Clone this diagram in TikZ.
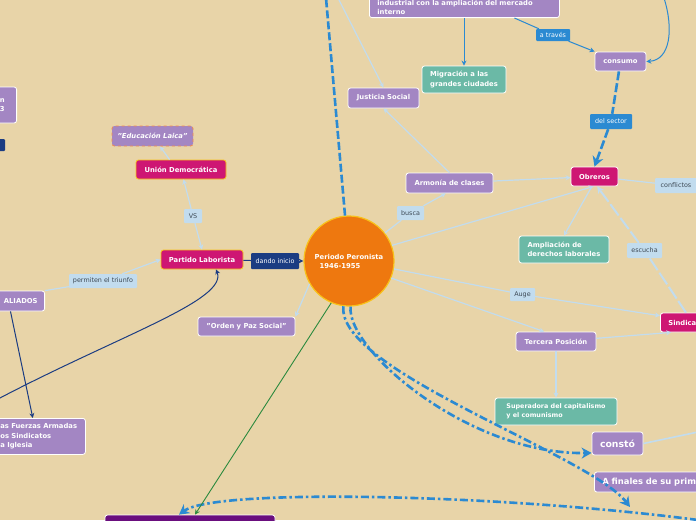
\documentclass[tikz,border=0pt]{standalone}
\usepackage{fontspec}
\setmainfont{DejaVu Sans}
\usetikzlibrary{arrows.meta}
\definecolor{fondo}{HTML}{E8D4A8}
\definecolor{morado}{HTML}{A386C3}
\definecolor{fucsia}{HTML}{CE1673}
\definecolor{verdeagua}{HTML}{6BB9A6}
\definecolor{celeste}{HTML}{C2DCEE}
\definecolor{azul}{HTML}{2B8AD2}
\definecolor{marino}{HTML}{1B3C82}
\definecolor{naranja}{HTML}{EE780F}
\definecolor{amarillo}{HTML}{F8C21A}
\definecolor{uva}{HTML}{6A0E7E}
\definecolor{verde}{HTML}{2B8A3E}
\definecolor{gristexto}{HTML}{3E4A55}
\definecolor{salmon}{HTML}{F08A50}
\begin{document}
\begin{tikzpicture}[x=1pt,y=-1pt,
	caja/.style={rectangle,rounded corners=2.5pt,draw=white,line width=0.8pt,text=white,font=\fontsize{6.8}{9.3}\selectfont\bfseries,inner sep=3pt},
	morada/.style={caja,fill=morado},
	fucsiacaja/.style={caja,fill=fucsia,draw=amarillo},
	verdecaja/.style={caja,fill=verdeagua,align=left},
	etiq/.style={rectangle,rounded corners=1pt,fill=celeste,text=gristexto,font=\fontsize{6.4}{7.5}\selectfont,inner sep=2pt},
	etiqazul/.style={etiq,fill=azul,text=white},
	etiqmarino/.style={etiq,fill=marino,text=white},
	linea/.style={celeste,line width=1.2pt,-{Stealth[length=5pt,width=5pt]}},
	lineaazul/.style={azul,line width=1pt,-{Stealth[length=5pt,width=5pt]}},
	lineamarino/.style={marino,line width=1pt,-{Stealth[length=5pt,width=5pt]}},
	gruesa/.style={azul,line width=2.6pt,dash pattern=on 8pt off 3pt on 2.5pt off 3pt,-{Stealth[length=10pt,width=11pt]}}]
	\useasboundingbox (0,0) rectangle (696,520);
	\clip (0,0) rectangle (696,520);
	\fill[fondo] (0,0) rectangle (696,520);

	\node[circle,fill=naranja,draw=amarillo,line width=1.2pt,minimum size=90pt,inner sep=0pt,text=white,font=\fontsize{6.8}{9}\selectfont\bfseries,align=left] (centro) at (349,261) {Periodo Peronista\\\hspace{5pt}1946-1955};

	\node[morada,anchor=south west,text width=174pt,align=left,inner xsep=8pt] (mercado) at (369,18) {industrial con la ampliación del mercado\\interno};
	\node[verdecaja,minimum width=84pt,minimum height=27pt] (migracion) at (464,79.5) {Migración a las\\grandes ciudades};
	\node[morada,minimum width=71pt,minimum height=20pt] (justicia) at (383.5,98) {Justicia Social};
	\node[morada,minimum width=51pt,minimum height=19pt] (consumo) at (620.5,61.5) {consumo};
	\node[etiqazul,minimum width=34pt,minimum height=12pt] (atraves) at (553,35) {a través};
	\node[etiqazul,minimum width=42pt,minimum height=15pt] (delsector) at (611,121.5) {del sector};
	\node[fucsiacaja,draw=white,minimum width=47pt,minimum height=19pt] (obreros) at (594.5,176.5) {Obreros};
	\node[etiq,minimum width=42pt,minimum height=15pt] (conflictos) at (676,185.5) {conflictos};
	\node[morada,minimum width=87pt,minimum height=20pt] (armonia) at (449.5,183) {Armonía de clases};
	\node[etiq,minimum width=27pt,minimum height=14pt] (busca) at (410.5,213) {busca};
	\node[verdecaja,minimum width=90pt,minimum height=27pt] (derechos) at (564,249.5) {Ampliación de\\derechos laborales};
	\node[etiq,minimum width=35pt,minimum height=15pt] (escucha) at (644.5,250.5) {escucha};
	\node[fucsiacaja,draw=white,anchor=west,text width=60pt,align=left,inner xsep=8pt,minimum height=19pt] (sindicatos) at (660,322.5) {Sindica};
	\node[etiq,minimum width=25pt,minimum height=13pt] (auge) at (522.5,294.5) {Auge};
	\node[morada,minimum width=80pt,minimum height=19pt] (tercera) at (556,341.5) {Tercera Posición};
	\node[verdecaja,font=\fontsize{6.4}{8.6}\selectfont\bfseries,minimum width=122pt,minimum height=27pt] (superadora) at (556,411.5) {Superadora del capitalismo\\y el comunismo};
	\node[morada,font=\fontsize{9.3}{11}\selectfont\bfseries,minimum width=51pt,minimum height=23pt] (consto) at (617.5,443.5) {constó};
	\node[morada,font=\fontsize{8.4}{10}\selectfont\bfseries,anchor=west,text width=110pt,align=left,inner xsep=8pt,minimum height=20pt] (finales) at (594,482) {A finales de su prim};
	\node[caja,fill=uva,minimum width=170pt,minimum height=26pt] (abajo) at (190,528) {};

	\node[fucsiacaja,minimum width=82pt,minimum height=19pt] (partido) at (202,259.5) {Partido Laborista};
	\node[etiqmarino,minimum width=48pt,minimum height=16pt] (dando) at (275,261) {dando inicio};
	\node[etiq,minimum width=18pt,minimum height=14pt] (vs) at (193,216) {VS};
	\node[fucsiacaja,minimum width=90pt,minimum height=19pt] (union) at (181,169.5) {Unión Democrática};
	\node[morada,draw=salmon,dashed,font=\fontsize{6.8}{9}\selectfont\bfseries\itshape,minimum width=81pt,minimum height=20pt] (laica) at (152.5,136) {"Educación Laica"};
	\node[morada,minimum width=97pt,minimum height=19pt] (orden) at (246.5,326.5) {"Orden y Paz Social"};
	\node[morada,anchor=east,minimum height=20pt,inner xsep=7pt] (aliados) at (45,301) {ALIADOS};
	\node[etiq,minimum width=68pt,minimum height=14pt] (permiten) at (103,281) {permiten el triunfo};
	\node[morada,anchor=north west,text width=79pt,align=left,inner xsep=6pt,minimum height=36pt] (pilares) at (-6,418) {as Fuerzas Armadas\\os Sindicatos\\a Iglesia};
	\node[morada,anchor=east,align=right,inner xsep=12pt,minimum height=36pt] (izqcaja) at (17,105) {n\\3};
	\node[etiqmarino,minimum width=20pt,minimum height=12pt] (izqfrag) at (-5,145) {};

	\coordinate (arribaA) at (326,-2);
	\coordinate (arribaB) at (338,-2);
	\coordinate (arribaC) at (664,-2);
	\coordinate (derA) at (698,191);
	\coordinate (derB) at (698,432);
	\coordinate (derC) at (698,520);
	\coordinate (izqA) at (-2,399);
	\coordinate (puntaA) at (630,507);

	\draw[azul,line width=2.6pt,dash pattern=on 8pt off 3pt] (centro) -- (arribaA);
	\draw[linea] (arribaB) -- (justicia.north);
	\draw[lineaazul] (mercado.south-|migracion.north) -- (migracion);
	\draw[azul,line width=1pt] ([xshift=50pt]mercado.south) -- (atraves);
	\draw[lineaazul] (atraves) -- (consumo.north west);
	\draw[lineaazul] (arribaC) .. controls (674,30) and (670,60) .. (consumo.east);
	\draw[azul,line width=2.6pt,dash pattern=on 9pt off 3pt] (consumo) -- (delsector);
	\draw[azul,line width=2.6pt,dash pattern=on 9pt off 3pt,-{Stealth[length=10pt,width=11pt]}] (delsector) -- (obreros.north);
	\draw[celeste,line width=1.2pt] (obreros) -- (conflictos) -- (derA);
	\draw[celeste,line width=1.2pt] (centro) -- (busca);
	\draw[linea] (busca) -- (armonia.-110);
	\draw[linea] (armonia.north) -- (justicia.south);
	\draw[linea] (armonia) -- (obreros);
	\draw[linea] (centro.20) -- (obreros.-95);
	\draw[linea] (obreros.-105) -- (derechos.north);
	\draw[celeste,line width=2pt,dash pattern=on 14pt off 3pt] ([xshift=26pt]sindicatos.north west) -- (escucha);
	\draw[celeste,line width=2pt,dash pattern=on 14pt off 3pt,-{Stealth[length=7pt,width=7pt]}] (escucha) -- (obreros.-75);
	\draw[celeste,line width=1.2pt] (centro.-10) -- (auge);
	\draw[linea] (auge) -- (sindicatos.170);
	\draw[linea] (centro.-22) -- (tercera.140);
	\draw[linea] (tercera) -- (sindicatos.-160);
	\draw[linea] (tercera) -- (superadora);
	\draw[celeste,line width=1.6pt] (consto.east) -- (derB);
	\draw[gruesa] (centro.-88) .. controls (346,350) and (470,455) .. (consto.-160);
	\draw[gruesa] (centro.-97) .. controls (336,370) and (590,455) .. (puntaA);
	\draw[gruesa] (derC) .. controls (500,494) and (215,488) .. ([xshift=-11pt]abajo.north);
	\draw[verde,line width=0.9pt,-{Stealth[length=5pt,width=5pt]}] (centro.-113) -- ([xshift=5pt]abajo.north);

	\draw[marino,line width=1pt] (partido) -- (dando);
	\draw[lineamarino] (dando) -- (centro);
	\draw[celeste,line width=1.2pt] (aliados.north east) -- (permiten);
	\draw[linea] (permiten) -- (partido.west);
	\draw[lineamarino] (aliados.south west) ++(14,0) -- ([xshift=-53pt]pilares.north east);
	\draw[lineamarino] (izqA) .. controls (120,335) and (228,300) .. ([xshift=14pt]partido.south);
	\draw[linea,{Stealth[length=5pt,width=5pt]}-] (union) -- (vs);
	\draw[linea] (vs) -- (partido.north);
	\draw[linea] (union.north west) ++(34,0) -- (laica);
	\draw[linea] (centro.-150) -- (orden.north east);
\end{tikzpicture}
\end{document}
